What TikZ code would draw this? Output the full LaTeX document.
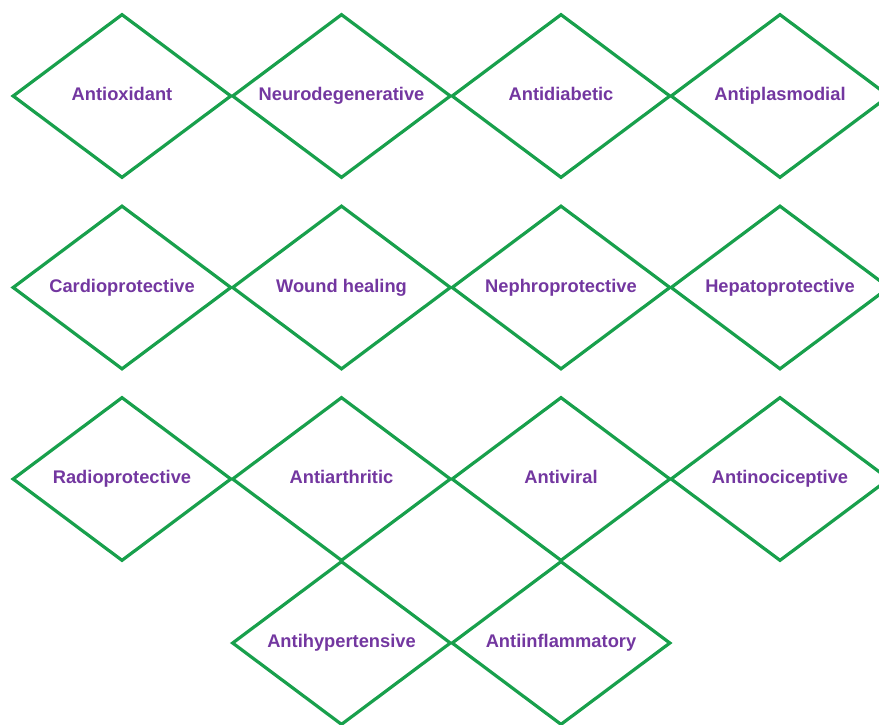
\documentclass[tikz,border=0pt]{standalone}
\usepackage{fontspec}
\setmainfont{Liberation Sans}
\usetikzlibrary{shapes.geometric}
\definecolor{dgreen}{RGB}{24,160,76}
\definecolor{tpurple}{RGB}{115,55,160}
\begin{document}
\begin{tikzpicture}[x=1pt,y=-1pt,
  dia/.style={shape=diamond, draw=dgreen, line width=3.2pt, shape aspect=1.335,
    minimum width=219pt, minimum height=164pt, inner sep=0pt,
    text height=13pt, text depth=4pt,
    text=tpurple, font=\fontsize{18.3}{20}\selectfont\bfseries}]
\useasboundingbox (0,0) rectangle (879,725);
\node[dia] (n1) at (122,96) {Antioxidant};
\node[dia] (n2) at (341.5,96) {Neurodegenerative};
\node[dia] (n3) at (561,96) {Antidiabetic};
\node[dia] (n4) at (780,96) {Antiplasmodial};
\node[dia] (n5) at (122,287.5) {Cardioprotective};
\node[dia] (n6) at (341.5,287.5) {Wound healing};
\node[dia] (n7) at (561,287.5) {Nephroprotective};
\node[dia] (n8) at (780,287.5) {Hepatoprotective};
\node[dia] (n9) at (122,479) {Radioprotective};
\node[dia] (n10) at (341.5,479) {Antiarthritic};
\node[dia] (n11) at (561,479) {Antiviral};
\node[dia] (n12) at (780,479) {Antinociceptive};
\node[dia] (n13) at (341.5,643) {Antihypertensive};
\node[dia] (n14) at (561,643) {Antiinflammatory};
\end{tikzpicture}
\end{document}
